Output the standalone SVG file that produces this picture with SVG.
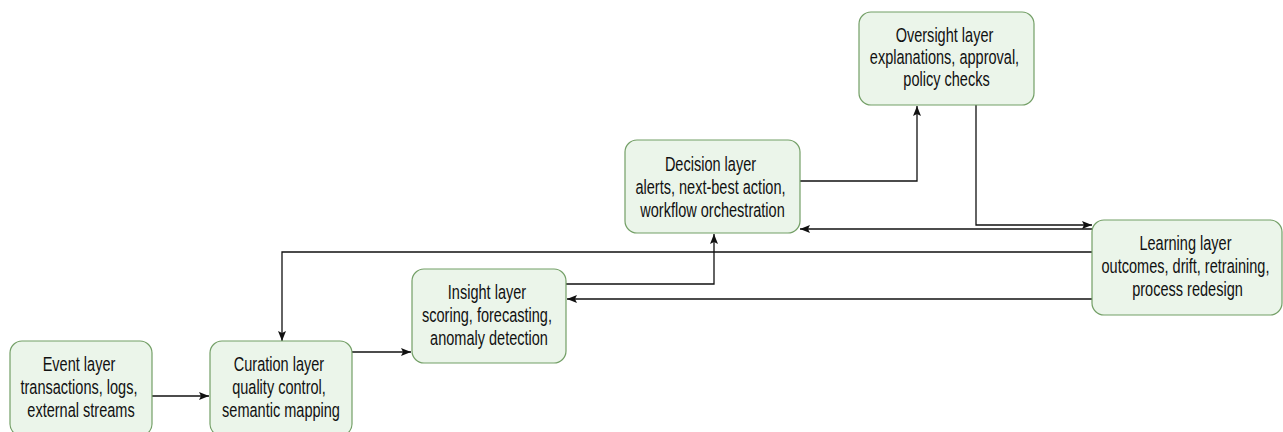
<svg xmlns="http://www.w3.org/2000/svg" width="1283" height="432" viewBox="0 0 1283 432">
  <style>
    .box { fill: #ebf5ea; stroke: #739f66; stroke-width: 1.2; }
    .lbl { font-family: "Liberation Sans", Arial, sans-serif; font-size: 19.5px; fill: #111; text-anchor: middle; }
    .edge { fill: none; stroke: #111; stroke-width: 1.3; }
  </style>
  <defs>
    <marker id="arr" markerUnits="userSpaceOnUse" markerWidth="10" markerHeight="8" refX="10" refY="4" orient="auto">
      <path d="M0,0 L10,4 L0,8 L2,4 z" fill="#111"/>
    </marker>
  </defs>
  <rect width="1283" height="432" fill="#ffffff"/>

  <g id="connectors">
    <path class="edge" d="M152 396 H209" marker-end="url(#arr)"/>
    <path class="edge" d="M352 352 H411" marker-end="url(#arr)"/>
    <path class="edge" d="M566 284 H714 V234" marker-end="url(#arr)"/>
    <path class="edge" d="M800 181 H917 V106" marker-end="url(#arr)"/>
    <path class="edge" d="M976 105 V225 H1092" marker-end="url(#arr)"/>
    <path class="edge" d="M1093 229 H800" marker-end="url(#arr)"/>
    <path class="edge" d="M1093 252 H282 V341" marker-end="url(#arr)"/>
    <path class="edge" d="M1093 299 H567" marker-end="url(#arr)"/>
  </g>

  <g id="event">
    <rect class="box" x="10" y="341" width="142" height="95" rx="12"/>
    <text class="lbl" transform="translate(81 0) scale(0.745 1)">
      <tspan x="0" y="371">Event layer</tspan>
      <tspan x="0" y="394">transactions, logs,</tspan>
      <tspan x="0" y="417">external streams</tspan>
    </text>
  </g>

  <g id="curation">
    <rect class="box" x="210" y="341" width="142" height="95" rx="12"/>
    <text class="lbl" transform="translate(281 0) scale(0.745 1)">
      <tspan x="0" y="371">Curation layer</tspan>
      <tspan x="0" y="394">quality control,</tspan>
      <tspan x="0" y="417">semantic mapping</tspan>
    </text>
  </g>

  <g id="insight">
    <rect class="box" x="412" y="269" width="154" height="94" rx="12"/>
    <text class="lbl" transform="translate(489 0) scale(0.745 1)">
      <tspan x="0" y="299">Insight layer</tspan>
      <tspan x="0" y="322">scoring, forecasting,</tspan>
      <tspan x="0" y="345">anomaly detection</tspan>
    </text>
  </g>

  <g id="decision">
    <rect class="box" x="625" y="140" width="175" height="93" rx="12"/>
    <text class="lbl" transform="translate(712.5 0) scale(0.745 1)">
      <tspan x="0" y="171">Decision layer</tspan>
      <tspan x="0" y="194">alerts, next-best action,</tspan>
      <tspan x="0" y="217">workflow orchestration</tspan>
    </text>
  </g>

  <g id="oversight">
    <rect class="box" x="859" y="12" width="175" height="93" rx="12"/>
    <text class="lbl" transform="translate(946.5 0) scale(0.745 1)">
      <tspan x="0" y="42">Oversight layer</tspan>
      <tspan x="0" y="64">explanations, approval,</tspan>
      <tspan x="0" y="86">policy checks</tspan>
    </text>
  </g>

  <g id="learning">
    <rect class="box" x="1092" y="220" width="190" height="95" rx="12"/>
    <text class="lbl" transform="translate(1187.5 0) scale(0.745 1)">
      <tspan x="0" y="250">Learning layer</tspan>
      <tspan x="0" y="273">outcomes, drift, retraining,</tspan>
      <tspan x="0" y="296">process redesign</tspan>
    </text>
  </g>
</svg>
